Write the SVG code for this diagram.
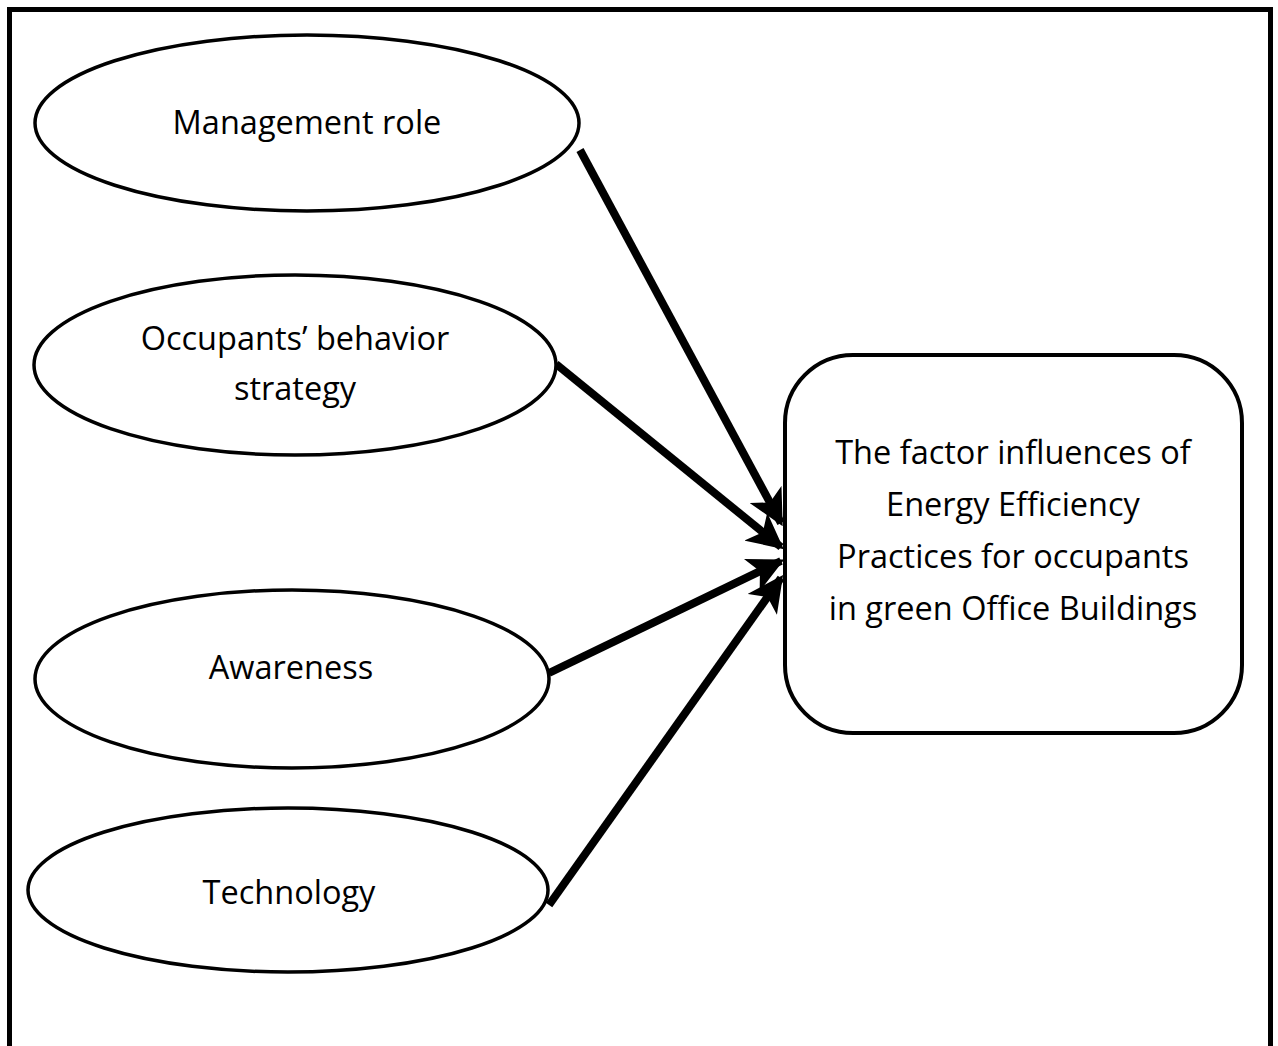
<svg xmlns="http://www.w3.org/2000/svg" width="1278" height="1046" viewBox="0 0 1278 1046">
<defs>
<style>
.frame{fill:none;stroke:#000;stroke-width:5}
.ell{fill:#fff;stroke:#000;stroke-width:3.5}
.box{fill:#fff;stroke:#000;stroke-width:4}
.lbl{font-family:"Open Sans","Liberation Sans",sans-serif;font-size:32.5px;fill:#000;text-anchor:middle}
.conn{stroke:#000;stroke-width:8;fill:none;marker-end:url(#ah)}
</style>
<marker id="ah" viewBox="0 0 10 10" refX="9" refY="5" markerWidth="4.5" markerHeight="4.5" markerUnits="strokeWidth" orient="auto">
<path d="M0,0 L10,5 L0,10 L2.5,5 z" fill="#000"/>
</marker>
</defs>
<rect width="1278" height="1046" fill="#fff"/>
<path class="frame" d="M9.5,1046 V9.5 H1270.5 V1046"/>
<g id="connectors">
<line class="conn" x1="580" y1="150" x2="781" y2="523"/>
<line class="conn" x1="556" y1="364" x2="781" y2="547"/>
<line class="conn" x1="549" y1="673" x2="781" y2="561"/>
<line class="conn" x1="549" y1="905" x2="781" y2="578"/>
</g>
<g id="management">
<ellipse class="ell" cx="307" cy="123" rx="272" ry="88"/>
<text class="lbl" x="307" y="134">Management role</text>
</g>
<g id="occupants">
<ellipse class="ell" cx="295" cy="365" rx="261" ry="90"/>
<text class="lbl" x="295" y="350">Occupants’ behavior</text>
<text class="lbl" x="295" y="400">strategy</text>
</g>
<g id="awareness">
<ellipse class="ell" cx="292" cy="679" rx="257" ry="89"/>
<text class="lbl" x="291" y="679">Awareness</text>
</g>
<g id="technology">
<ellipse class="ell" cx="288" cy="890" rx="260" ry="82"/>
<text class="lbl" x="289" y="904">Technology</text>
</g>
<g id="outcome">
<rect class="box" x="785" y="355" width="457" height="378" rx="68" ry="68"/>
<text class="lbl" x="1013" y="464">The factor influences of</text>
<text class="lbl" x="1013" y="516">Energy Efficiency</text>
<text class="lbl" x="1013" y="568">Practices for occupants</text>
<text class="lbl" x="1013" y="620">in green Office Buildings</text>
</g>
</svg>
